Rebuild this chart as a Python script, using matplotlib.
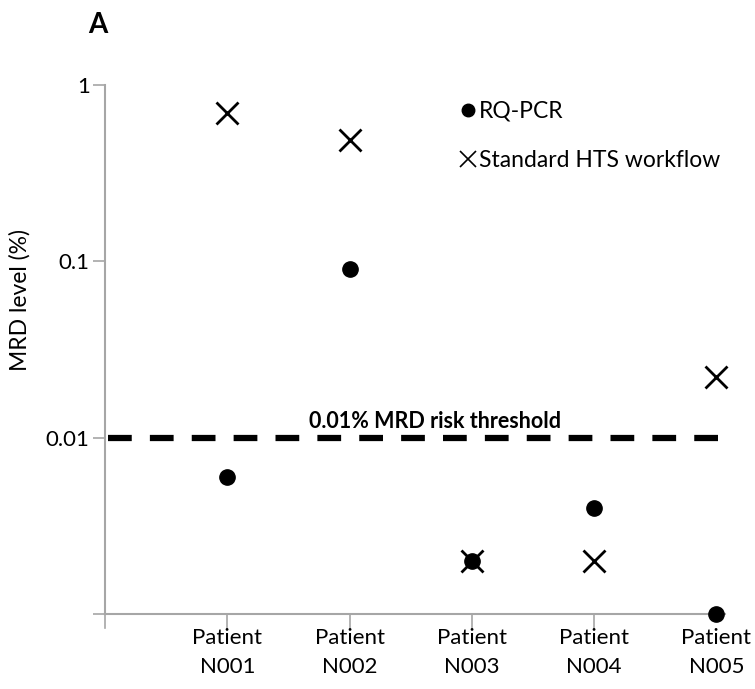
import numpy as np
import matplotlib.pyplot as plt
from matplotlib.lines import Line2D

# Dados (MRD level em %)
pacientes = ['Patient\nN001', 'Patient\nN002', 'Patient\nN003', 'Patient\nN004', 'Patient\nN005']
rq_pcr = [0.006, 0.091, 0.002, 0.004, 0.001]
hts = [0.69, 0.49, 0.002, 0.002, 0.022]
limiar = 0.01

plt.rcParams['font.family'] = ['Lato', 'DejaVu Sans']

fig = plt.figure(figsize=(7.55, 6.89), dpi=100)
ax = fig.add_axes([105 / 755, 1 - 614 / 689, 620 / 755, (614 - 85) / 689])

pos = np.arange(1, len(pacientes) + 1)
cinza = '#a6a6a6'

ax.axhline(limiar, xmin=0.005, xmax=0.995, color='black', lw=4.5, ls=(0, (3.8, 2.9)), zorder=2)
ax.text(2.7, limiar * 1.07, '0.01% MRD risk threshold', ha='center', va='bottom',
        fontsize=15.5, fontweight='bold')

ax.plot(pos, rq_pcr, 'o', color='black', ms=11, clip_on=False, zorder=3)
ax.plot(pos, hts, 'x', color='black', ms=16, mew=2, clip_on=False, zorder=4)

ax.set_yscale('log')
ax.set_ylim(0.001, 1)
ax.set_xlim(0, 5.07)
ax.set_yticks([0.001, 0.01, 0.1, 1])
ax.set_yticklabels(['', '0.01', '0.1', '1'])
ax.minorticks_off()
ax.set_xticks(pos)
ax.set_xticklabels(pacientes)
ax.tick_params(axis='y', length=9, width=1.2, color=cinza, labelsize=16, pad=2)
ax.tick_params(axis='x', length=0, labelsize=16, pad=10)
for lab in ax.get_xticklabels():
    lab.set_linespacing(1.55)
# marcas do eixo x entre categorias
for k in range(0, 5):
    ax.plot([k, k], [0.001, 0.00083], color=cinza, lw=1.2, clip_on=False, zorder=1)

for s in ['top', 'right']:
    ax.spines[s].set_visible(False)
for s in ['left', 'bottom']:
    ax.spines[s].set_color(cinza)
    ax.spines[s].set_linewidth(1.5)

fig.text(20 / 755, 1 - 300 / 689, 'MRD level (%)', rotation=90, ha='center', va='center', fontsize=16.5)
fig.text(88 / 755, 1 - 25 / 689, 'A', fontsize=20, fontweight='bold', ha='left', va='center')

handles = [Line2D([], [], marker='o', ls='', color='black', ms=9),
           Line2D([], [], marker='x', ls='', color='black', ms=12, mew=1.2)]
ax.legend(handles, ['RQ-PCR', 'Standard HTS workflow'], loc='upper left',
          bbox_to_anchor=(440 / 755, 1 - 80 / 689), bbox_transform=fig.transFigure,
          frameon=False, fontsize=16.5, handlelength=0.6, handletextpad=0.2, labelspacing=1.25)

fig.savefig('out.png', dpi=100)
